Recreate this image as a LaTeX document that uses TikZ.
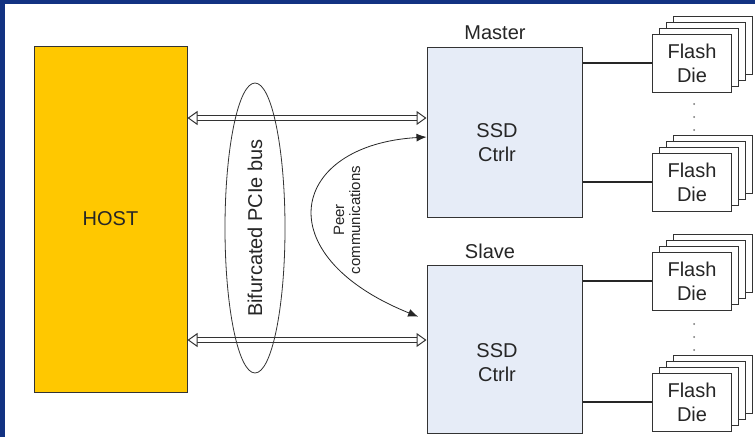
\documentclass[tikz,border=0pt]{standalone}
\usepackage{fontspec}
\setmainfont{Liberation Sans}
\usetikzlibrary{shapes.geometric,arrows.meta}
\definecolor{hostyellow}{RGB}{255,200,0}
\definecolor{ctrlblue}{RGB}{230,236,247}
\definecolor{framenavy}{RGB}{18,50,130}
\begin{document}
\begin{tikzpicture}[x=1pt,y=-1pt]
	\tikzstyle{big}=[font=\fontsize{20}{24}\selectfont,text=black!85]
	\tikzstyle{unit}=[draw=black!80,line width=1pt,shape=rectangle,inner sep=0pt]
	\tikzstyle{page}=[draw=black!80,fill=white,line width=0.8pt,minimum width=79pt,minimum height=58pt,inner sep=0pt,align=center,big]
	\tikzstyle{bus}=[draw=black!80,double=white,double distance=3.5pt,line width=1pt,{Triangle[open,fill=white,length=10pt,width=14pt]}-{Triangle[open,fill=white,length=10pt,width=14pt]}]
	\tikzstyle{link}=[draw=black!85,line width=1.2pt]
	\tikzstyle{peer}=[draw=black!85,line width=0.8pt,{Latex[length=10pt,width=8pt]}-{Latex[length=10pt,width=8pt]}]

	\useasboundingbox (0,0) rectangle (755,437);
	\fill[framenavy] (0,0) rectangle (755,437);
	\fill[white] (5,4) rectangle (755,437);

	\node[unit,fill=hostyellow,minimum width=153pt,minimum height=346pt,big](host) at (110.5,219){HOST};
	\node[unit,fill=ctrlblue,minimum width=155pt,minimum height=170pt](master) at (504.5,132){};
	\node[unit,fill=ctrlblue,minimum width=155pt,minimum height=168pt](slave) at (504.5,349){};
	\node[big,align=center](mtext) at (497,143){SSD\\Ctrlr};
	\node[big,align=center](stext) at (497,363){SSD\\Ctrlr};
	\node[big](mlabel) at (495,33){Master};
	\node[big](slabel) at (490,251){Slave};

	\foreach \n/\y in {m1/63,m2/182,s1/281,s2/402}{
		\foreach \k in {3,2,1}
			\node[page] at (692+7*\k,\y-6*\k){};
		\node[page](\n) at (692,\y){Flash\\Die};
	}
	\foreach \y in {104,117,130,324,337,350}
		\fill[black!55] (694,\y) circle (1pt);

	\draw[link] (master.east |- m1.west) -- (m1.west);
	\draw[link] (master.east |- m2.west) -- (m2.west);
	\draw[link] (slave.east |- s1.west) -- (s1.west);
	\draw[link] (slave.east |- s2.west) -- (s2.west);

	\coordinate (busa) at (300,118);
	\coordinate (busb) at (300,340);
	\draw[bus] (host.east |- busa) -- (master.west |- busa);
	\draw[bus] (host.east |- busb) -- (master.west |- busb);

	\node[draw=black!80,line width=0.8pt,ellipse,rotate=90,minimum width=290pt,minimum height=60pt,inner sep=0pt,big](pcie) at (255,228){Bifurcated PCIe bus};

	\coordinate (pa) at (400,137);
	\coordinate (pb) at (400,320);
	\draw[peer,shorten >=9pt] (master.west |- pa) .. controls (290,145) and (265,255) .. (slave.west |- pb);
	\node[font=\fontsize{15}{16}\selectfont,text=black!85,rotate=90,align=center](peertext) at (347,220){Peer\\communications};
\end{tikzpicture}
\end{document}
